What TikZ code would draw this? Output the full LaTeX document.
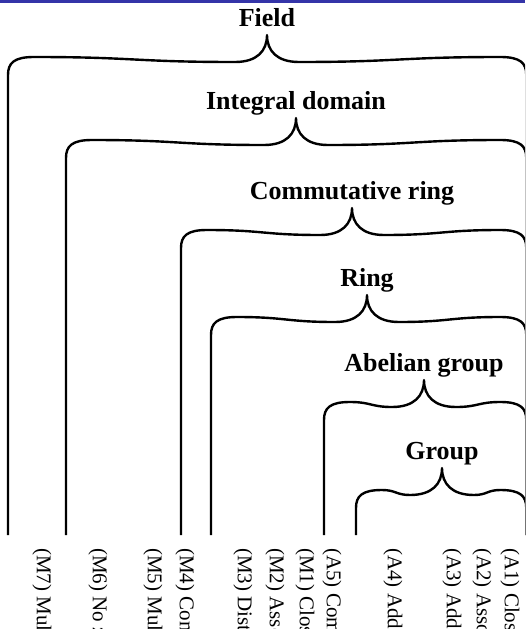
\documentclass[tikz,border=0pt]{standalone}
\usepackage{fontspec}
\setmainfont{Liberation Serif}
\usetikzlibrary{calc}
\definecolor{topblue}{RGB}{52,52,168}
\newcommand{\setbrace}[3]{%
  \draw[brace] let \p1=($(#1.base)+(0,9)$),
      \p2=($(#2pt+26pt,0pt)!.5!(\x1-32pt,0pt)$),
      \p3=($(#3pt-26pt,0pt)!.5!(\x1+32pt,0pt)$) in
    (#2pt,-535pt) -- (#2pt,\y1-40pt)
    .. controls (#2pt,\y1-28pt) and (#2pt+6pt,\y1-22pt) .. (#2pt+26pt,\y1-22pt)
    .. controls (\x2,\y1-22pt) and (\x2,\y1-27pt) .. (\x1-32pt,\y1-27pt)
    .. controls (\x1-10pt,\y1-27pt) and (\x1,\y1-16pt) .. (\x1,\y1)
    .. controls (\x1,\y1-16pt) and (\x1+10pt,\y1-27pt) .. (\x1+32pt,\y1-27pt)
    .. controls (\x3,\y1-27pt) and (\x3,\y1-22pt) .. (#3pt-26pt,\y1-22pt)
    .. controls (#3pt-6pt,\y1-22pt) and (#3pt,\y1-28pt) .. (#3pt,\y1-40pt)
    -- (#3pt,-535pt);}

\begin{document}
\begin{tikzpicture}[
    x=1pt, y=-1pt,
    brace/.style={line width=2.4pt, line join=round},
    title/.style={font=\fontsize{26}{30}\selectfont\bfseries, anchor=base, inner sep=0pt},
    axiom/.style={font=\fontsize{21}{25}\selectfont, rotate=-90, anchor=west, inner sep=0pt}
]
\useasboundingbox (0,0) rectangle (525,629);
\clip (0,0) rectangle (525,629);
\fill[topblue] (0,0) rectangle (525,2.5);

\node[title] (field) at (267,26) {Field};
\node[title] (intdom) at (296,109) {Integral domain};
\node[title] (comring) at (352,199) {Commutative ring};
\node[title] (ring) at (367,286) {Ring};
\node[title] (abgroup) at (424,371) {Abelian group};
\node[title] (group) at (442,459) {Group};

\setbrace{field}{8}{526.3}
\setbrace{intdom}{66}{526.3}
\setbrace{comring}{181}{526.3}
\setbrace{ring}{211}{526.3}
\setbrace{abgroup}{324}{526.3}
\setbrace{group}{356}{526.3}

\node[axiom] (m7) at (42,548) {(M7) Multiplicative inverse};
\node[axiom] (m6) at (98,548) {(M6) No zero divisors};
\node[axiom] (m5) at (153,548) {(M5) Multiplicative identity};
\node[axiom] (m4) at (185,548) {(M4) Commutativity of multiplication};
\node[axiom] (m3) at (243,548) {(M3) Distributive laws};
\node[axiom] (m2) at (275,548) {(M2) Associativity of multiplication};
\node[axiom] (m1) at (305,548) {(M1) Closure under multiplication};
\node[axiom] (a5) at (332,548) {(A5) Commutativity of addition};
\node[axiom] (a4) at (393,548) {(A4) Additive inverse};
\node[axiom] (a3) at (452,548) {(A3) Additive identity};
\node[axiom] (a2) at (482,548) {(A2) Associativity of addition};
\node[axiom] (a1) at (510,548) {(A1) Closure under addition};
\end{tikzpicture}
\end{document}
